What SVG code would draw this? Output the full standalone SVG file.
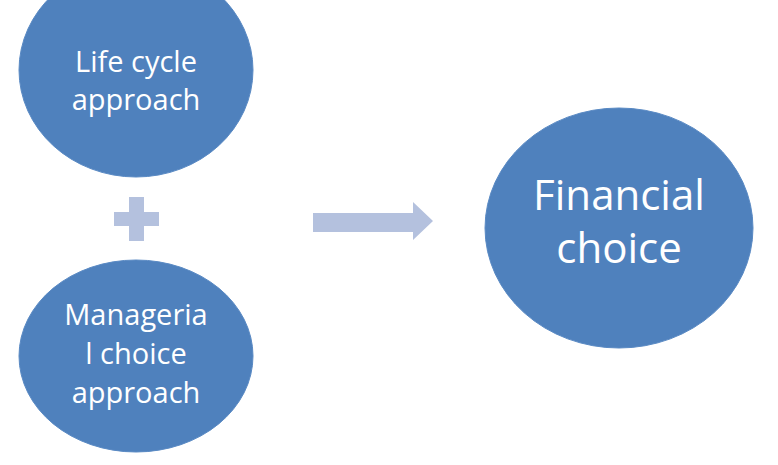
<svg xmlns="http://www.w3.org/2000/svg" width="778" height="465" viewBox="0 0 778 465">
<style>
.node{fill:#4f81bd;stroke:#5a8ac4;stroke-width:1}
.t{fill:#ffffff;font-family:"Open Sans","Noto Sans","Liberation Sans",sans-serif;text-anchor:middle}
.s{font-size:29px}
.b{font-size:42px}
.conn{fill:#b4c1de}
</style>
<rect width="778" height="465" fill="#ffffff"/>
<g id="life-cycle">
<ellipse class="node" cx="136" cy="70" rx="117" ry="107"/>
<text class="t s" x="136" y="72">Life cycle</text>
<text class="t s" x="136" y="110">approach</text>
</g>
<g id="managerial">
<ellipse class="node" cx="136" cy="356" rx="117" ry="96"/>
<text class="t s" x="136" y="325">Manageria</text>
<text class="t s" x="136" y="364">l choice</text>
<text class="t s" x="136" y="403">approach</text>
</g>
<g id="financial">
<ellipse class="node" cx="619" cy="228" rx="134" ry="120"/>
<text class="t b" x="619" y="210">Financial</text>
<text class="t b" x="619" y="263">choice</text>
</g>
<g id="connectors">
<path class="conn" d="M129,197 H144 V212 H159 V226 H144 V241 H129 V226 H114 V212 H129 Z"/>
<path class="conn" d="M313,213 H413 V202 L433,221 L413,240 V232 H313 Z"/>
</g>
</svg>
